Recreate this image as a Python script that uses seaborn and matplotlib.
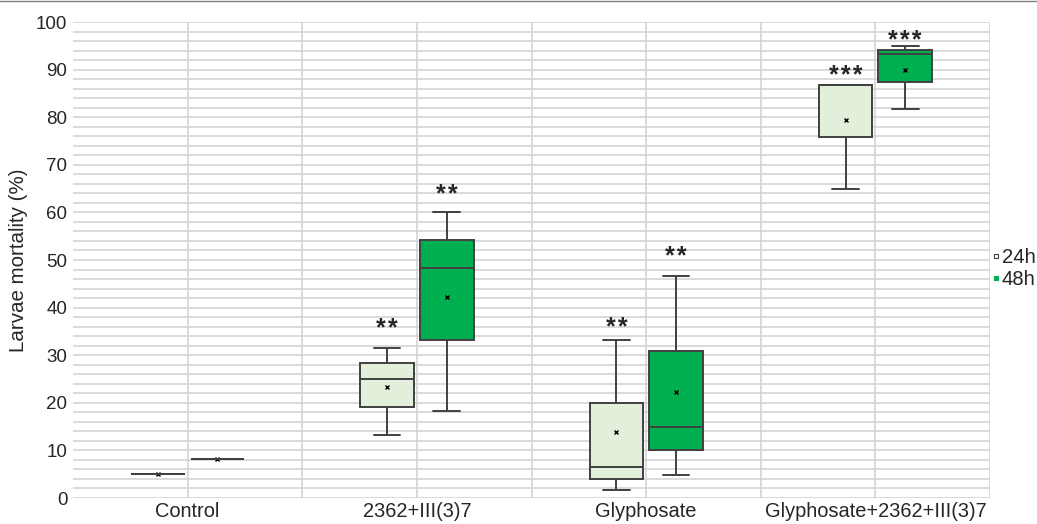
import numpy as np
import pandas as pd
import matplotlib
matplotlib.use('Agg')
import matplotlib.pyplot as plt
import seaborn as sns
from matplotlib.lines import Line2D
from matplotlib.ticker import MultipleLocator, FixedLocator

# Box summaries (min, Q1, median, Q3, max, mean)
groups = ['Control', '2362+III(3)7', 'Glyphosate', 'Glyphosate+2362+III(3)7']
times = ['24h', '48h']

low_24 = [5.0, 13.2, 1.7, 65.0]
q1_24 = [5.0, 19.1, 4.0, 75.8]
med_24 = [5.0, 25.0, 6.5, 86.7]
q3_24 = [5.0, 28.4, 20.0, 86.7]
high_24 = [5.0, 31.6, 33.3, 86.7]
mean_24 = [5.0, 23.3, 13.9, 79.4]

low_48 = [8.3, 18.3, 4.8, 81.7]
q1_48 = [8.3, 33.2, 10.0, 87.5]
med_48 = [8.3, 48.3, 15.0, 93.3]
q3_48 = [8.3, 54.2, 30.8, 94.2]
high_48 = [8.3, 60.0, 46.7, 95.0]
mean_48 = [8.3, 42.2, 22.2, 90.0]

stars_24 = ['', '**', '**', '***']
stars_48 = ['', '**', '**', '***']
star_y_24 = [0, 37.2, 37.4, 90.3]
star_y_48 = [0, 65.3, 52.3, 97.7]

# long-form table: the five-number summary of each box
rows = []
for i, g in enumerate(groups):
    for t, stats in (('24h', [low_24, q1_24, med_24, q3_24, high_24]),
                     ('48h', [low_48, q1_48, med_48, q3_48, high_48])):
        for s in stats:
            rows.append({'group': g, 'time': t, 'value': s[i]})
df = pd.DataFrame(rows)
mean_df = pd.DataFrame({'group': groups * 2,
                        'time': ['24h'] * 4 + ['48h'] * 4,
                        'value': mean_24 + mean_48})

sns.set_theme(style='white')
plt.rcParams['font.family'] = ['Liberation Sans', 'DejaVu Sans']

fig, ax = plt.subplots(figsize=(10.37, 5.24), dpi=100)
fig.subplots_adjust(left=0.0704, right=0.9547, bottom=0.0496, top=0.958)

sns.boxplot(data=df, x='group', y='value', hue='time', order=groups, hue_order=times,
            palette={'24h': '#E2EFDA', '48h': '#00B050'}, width=0.52, gap=0.1,
            whis=(0, 100), saturation=1, linecolor='#404040', linewidth=1.4,
            showfliers=False, legend=False, ax=ax)

sns.pointplot(data=mean_df, x='group', y='value', hue='time', order=groups, hue_order=times,
              dodge=0.26, linestyle='none', markers='x', palette={'24h': 'black', '48h': 'black'},
              errorbar=None, markersize=3, markeredgewidth=1, legend=False, ax=ax)

# significance stars, with a hair space between asterisks
for i in range(len(groups)):
    if stars_24[i]:
        ax.annotate('\u200a'.join(stars_24[i]), (i - 0.13, star_y_24[i]), xytext=(0, -10.5),
                    textcoords='offset points', ha='center', va='baseline',
                    fontsize=18, fontweight='bold')
    if stars_48[i]:
        ax.annotate('\u200a'.join(stars_48[i]), (i + 0.13, star_y_48[i]), xytext=(0, -10.5),
                    textcoords='offset points', ha='center', va='baseline',
                    fontsize=18, fontweight='bold')

ax.set_xlim(-0.5, 3.5)
ax.set_ylim(0, 100)
ax.yaxis.set_major_locator(MultipleLocator(10))
ax.yaxis.set_minor_locator(MultipleLocator(2))
ax.xaxis.set_minor_locator(FixedLocator([0.5, 1.5, 2.5, 3.5]))
ax.grid(True, which='both', color='#D4D4D4', linewidth=1.2)
ax.set_axisbelow(True)
ax.tick_params(which='both', length=0, pad=4)
ax.tick_params(axis='y', labelsize=13.5)
ax.tick_params(axis='x', labelsize=14.4, pad=3)
for sp in ax.spines.values():
    sp.set_visible(False)
ax.set_xlabel('')
ax.set_ylabel('Larvae mortality (%)', fontsize=14.8, labelpad=6)

handles = [Line2D([], [], marker='s', linestyle='none', markersize=3.2, markerfacecolor='white',
                  markeredgecolor='#404040', markeredgewidth=0.8),
           Line2D([], [], marker='s', linestyle='none', markersize=3.2, markerfacecolor='#00B050',
                  markeredgecolor='#00B050', markeredgewidth=0.8)]
fig.legend(handles, times, loc='center left', bbox_to_anchor=(0.958, 0.487), frameon=False,
           fontsize=14.6, handlelength=0.3, handletextpad=0.1, borderpad=0, borderaxespad=0,
           labelspacing=0.15)

fig.add_artist(Line2D([0, 1], [0.998, 0.998], transform=fig.transFigure, color='#808080', linewidth=1))

fig.savefig('out.png', dpi=100)
